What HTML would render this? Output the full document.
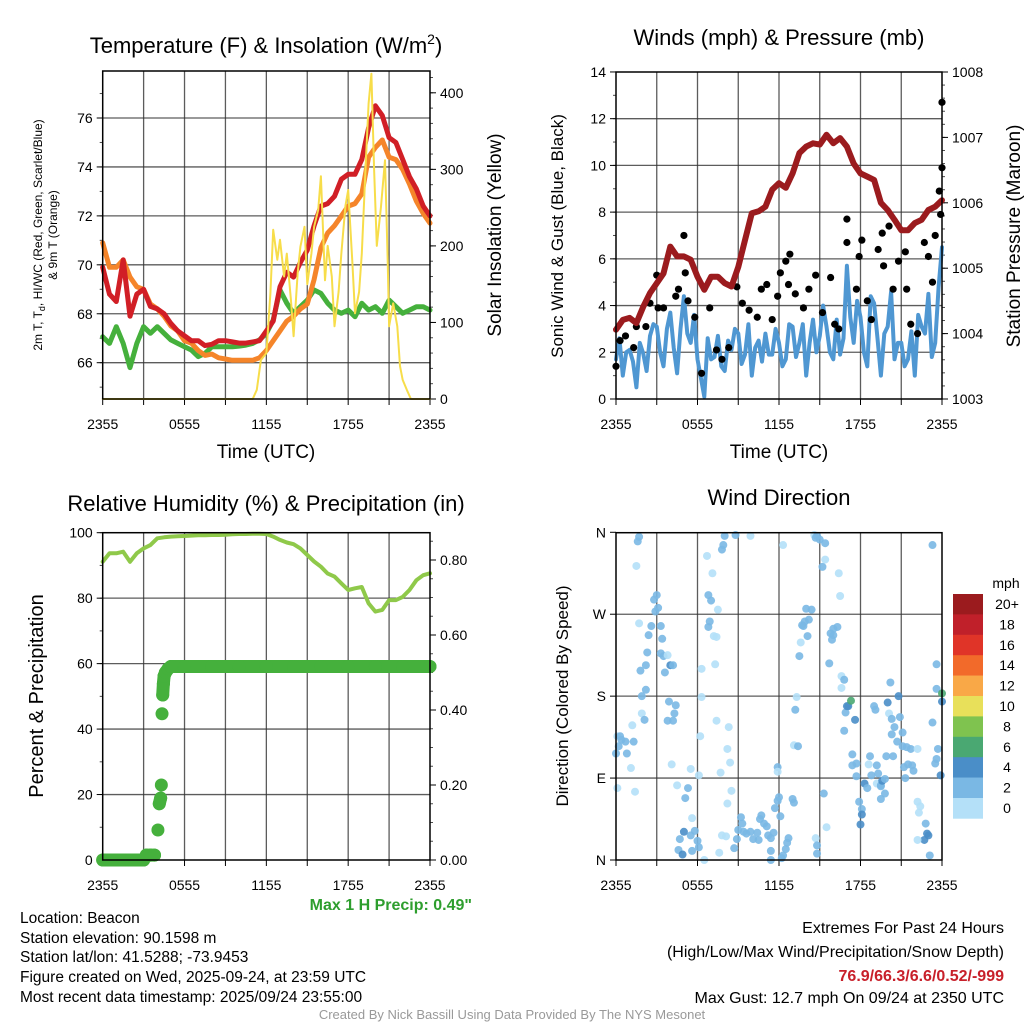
<!DOCTYPE html>
<html><head><meta charset="utf-8">
<style>
html,body{margin:0;padding:0;background:#fff;}
svg{display:block;font-family:"Liberation Sans",sans-serif;}
</style></head>
<body>
<svg id="root" width="1024" height="1024" viewBox="0 0 1024 1024" xmlns="http://www.w3.org/2000/svg">
<rect x="0" y="0" width="1024" height="1024" fill="#fff"/>
<text x="266" y="53" font-size="22" text-anchor="middle">Temperature (F) &amp; Insolation (W/m<tspan font-size="14" dy="-9">2</tspan><tspan dy="9">)</tspan></text>
<text x="779" y="45" font-size="22" text-anchor="middle">Winds (mph) &amp; Pressure (mb)</text>
<text x="266" y="511" font-size="22" text-anchor="middle">Relative Humidity (%) &amp; Precipitation (in)</text>
<text x="779" y="505" font-size="22" text-anchor="middle">Wind Direction</text>
<text x="266" y="458" font-size="19" text-anchor="middle">Time (UTC)</text>
<text x="779" y="458" font-size="19" text-anchor="middle">Time (UTC)</text>
<text transform="translate(42,235) rotate(-90)" font-size="12" text-anchor="middle">2m T, T<tspan font-size="9" dy="3">d</tspan><tspan dy="-3">, HI/WC (Red, Green, Scarlet/Blue)</tspan></text>
<text transform="translate(57,235) rotate(-90)" font-size="12" text-anchor="middle">&amp; 9m T (Orange)</text>
<text transform="translate(501,235) rotate(-90)" font-size="19" text-anchor="middle">Solar Insolation (Yellow)</text>
<text transform="translate(563,236) rotate(-90)" font-size="17" text-anchor="middle">Sonic Wind &amp; Gust (Blue, Black)</text>
<text transform="translate(1020,236) rotate(-90)" font-size="19" text-anchor="middle">Station Pressure (Maroon)</text>
<text transform="translate(43,696) rotate(-90)" font-size="20" text-anchor="middle">Percent &amp; Precipitation</text>
<text transform="translate(568,696) rotate(-90)" font-size="17" text-anchor="middle">Direction (Colored By Speed)</text>
<g id="plots"></g>
<g id="cbar"></g>
<text x="472" y="910" font-size="16" font-weight="bold" fill="#2e9e2e" text-anchor="end">Max 1 H Precip: 0.49"</text>
<g font-size="15.5">
<text x="20" y="923">Location: Beacon</text>
<text x="20" y="943">Station elevation: 90.1598 m</text>
<text x="20" y="962">Station lat/lon: 41.5288; -73.9453</text>
<text x="20" y="982">Figure created on Wed, 2025-09-24, at 23:59 UTC</text>
<text x="20" y="1002">Most recent data timestamp: 2025/09/24 23:55:00</text>
</g>
<g font-size="16" text-anchor="end">
<text x="1004" y="933">Extremes For Past 24 Hours</text>
<text x="1004" y="957">(High/Low/Max Wind/Precipitation/Snow Depth)</text>
<text x="1004" y="981" font-weight="bold" fill="#c8202a">76.9/66.3/6.6/0.52/-999</text>
<text x="1004" y="1003">Max Gust: 12.7 mph On 09/24 at 2350 UTC</text>
</g>
<text x="512" y="1019" font-size="13" fill="#999" text-anchor="middle">Created By Nick Bassill Using Data Provided By The NYS Mesonet</text>
</svg>
<script>
// ---------- DATA ----------
const halfHours = [];
for (let i = 0; i <= 48; i++) halfHours.push(i / 2);
const xTickHours = [0, 6, 12, 18, 24];
const xTickLabels = ["2355", "0555", "1155", "1755", "2355"];

const tempRed = [69.9,68.8,68.5,70.2,67.9,68.8,69.0,68.3,68.2,68.0,67.6,67.3,67.1,66.9,66.9,66.7,66.75,66.9,66.9,66.85,66.8,66.8,66.85,66.9,67.3,67.7,69.1,69.7,69.5,70.1,70.6,71.6,72.4,72.5,72.8,73.5,73.7,73.7,74.3,75.6,76.5,76.1,75.2,75.0,74.3,73.6,73.1,72.4,72.0];
const temp9mOrange = [70.9,69.9,69.9,70.2,69.5,69.1,69.0,68.4,68.2,67.9,67.5,67.3,66.9,66.8,66.5,66.3,66.35,66.2,66.15,66.1,66.1,66.1,66.1,66.2,66.5,66.9,67.3,67.7,67.9,68.2,68.4,69.4,70.7,71.3,71.6,72.0,72.4,72.5,72.9,74.4,74.8,75.1,74.4,74.3,73.9,73.3,72.6,72.1,71.7];
const dewGreen = [67.06,66.79,67.47,66.79,65.8,66.79,67.47,67.2,67.47,67.2,66.93,66.79,66.65,66.52,66.25,66.38,66.65,66.65,66.65,66.65,66.68,66.72,66.79,66.93,67.2,67.74,68.97,68.43,68.02,68.29,68.56,68.97,68.83,68.43,68.15,68.02,68.15,67.88,68.43,68.15,68.29,68.02,68.56,68.29,68.02,68.15,68.29,68.29,68.15];
const tempTicks = [66, 68, 70, 72, 74, 76];
const solarTicks = [0, 100, 200, 300, 400];

const solarT = [0,11,11.3,11.6,12,12.3,12.5,12.8,13,13.3,13.5,13.8,14,14.3,14.5,14.8,15,15.3,15.5,15.8,16,16.3,16.5,16.8,17,17.3,17.5,17.8,18,18.3,18.5,18.8,19,19.3,19.5,19.7,19.9,20.1,20.4,20.7,20.9,21,21.3,21.6,21.8,22,22.3,22.6,24];
const solarV = [0,0,12,51,60,138,221,182,208,160,190,130,82,165,199,225,150,190,225,247,291,155,200,160,95,140,191,252,273,180,112,140,190,312,386,425,300,200,250,312,180,95,125,95,43,25,12,0,0];

const pressure = [1004.06,1004.21,1004.24,1004.16,1004.41,1004.62,1004.77,1004.92,1005.33,1005.18,1005.18,1005.13,1004.87,1004.67,1004.87,1004.87,1004.77,1004.72,1005.02,1005.43,1005.84,1005.87,1005.94,1006.2,1006.3,1006.23,1006.45,1006.76,1006.86,1006.91,1006.89,1007.04,1006.91,1006.99,1006.86,1006.6,1006.45,1006.4,1006.35,1006.0,1005.89,1005.74,1005.58,1005.58,1005.69,1005.74,1005.89,1005.94,1006.04];
const windSpeed = [1.7,2.6,1.0,2.0,2.1,1.6,0.5,2.4,1.95,1.2,2.7,3.2,3.1,2.0,1.4,3.0,3.7,2.2,1.1,3.0,4.4,2.8,2.4,3.6,1.7,0.9,0.1,2.6,1.7,1.8,2.7,1.4,1.2,2.5,2.1,3.0,2.8,1.5,1.9,3.2,1.0,2.2,2.5,1.6,2.8,1.9,1.9,3.0,2.4,1.4,1.7,3.2,3.1,1.8,2.4,3.2,1.0,2.4,3.4,2.0,2.7,4.0,3.1,2.0,1.7,3.4,1.9,2.6,5.7,3.5,2.4,4.2,3.5,2.0,1.4,4.4,4.1,2.6,1.0,2.8,3.1,4.6,1.7,2.4,2.4,1.4,1.7,2.9,1.0,3.6,3.1,2.8,4.5,1.8,2.4,4.8,6.5];
const gustT = [0,0.3,0.7,1.3,1.5,2.2,2.5,3.0,3.1,3.5,4.4,4.6,5.0,5.1,5.3,5.8,6.3,6.9,7.4,7.8,8.3,8.9,9.3,9.8,10.4,10.7,11.1,11.5,11.9,12.1,12.5,12.8,12.7,13.2,13.8,14.2,14.7,15.2,15.8,16.1,16.4,17.0,17.0,17.7,17.9,18.1,18.5,18.8,19.3,19.6,19.7,20.1,20.4,20.8,21.3,21.4,21.7,22.2,22.7,23.0,23.3,23.5,23.8,24.0,24.0,23.9];
const gustV = [1.4,2.5,2.7,2.2,3.1,3.1,4.1,5.3,3.9,3.9,4.4,4.7,7.0,5.4,4.2,3.5,1.1,3.9,2.1,1.7,2.2,4.8,4.1,3.8,3.5,4.7,4.9,3.4,4.4,5.4,5.9,6.2,4.9,4.5,3.9,4.7,5.3,3.7,5.2,3.2,3.0,7.7,6.7,4.7,6.1,6.8,4.2,3.4,6.4,7.1,5.7,7.4,4.7,5.9,6.3,4.7,3.2,2.8,6.7,6.1,5.0,7.0,8.9,9.9,12.7,7.9];
const windTicks = [0,2,4,6,8,10,12,14];
const pressTicks = [1003,1004,1005,1006,1007,1008];

const rh = [91.1,93.7,93.7,94.2,91.1,93.7,95.2,96.2,98.3,98.6,98.8,98.9,99.0,99.1,99.2,99.2,99.3,99.3,99.4,99.5,99.6,99.6,99.7,99.7,99.6,98.8,97.8,97.0,96.5,95.2,93.2,91.2,89.6,87.5,86.6,84.5,82.5,83.0,83.4,78.4,75.9,76.4,79.4,79.4,80.4,82.5,85.5,87.0,87.6];
const precipT = [0,0.5,1,1.5,2,2.5,3,3.2,3.5,3.8,4.05,4.15,4.25,4.3,4.35,4.4,4.45,4.5,4.6,4.8,5,6,8,10,12,14,16,18,20,22,24];
const precipV = [0,0,0,0,0,0,0,0.013,0.013,0.013,0.08,0.15,0.165,0.20,0.39,0.44,0.47,0.49,0.50,0.51,0.516,0.516,0.516,0.516,0.516,0.516,0.516,0.516,0.516,0.516,0.516];
const rhTicks = [0,20,40,60,80,100];
const precipTicks = [0,0.2,0.4,0.6,0.8];
const precipTickLabels = ["0.00","0.20","0.40","0.60","0.80"];

const dirT = [0,0.1,0.3,0.4,0.2,0.7,0.8,1.3,1.2,0.1,1.1,1.4,1.9,2.1,1.9,2.2,1.8,2.2,2.3,2.4,2.6,1.7,1.5,1.6,1.7,2.8,3.0,2.9,3.1,3.3,3.4,3.3,3.5,3.8,4.0,4.2,3.6,3.9,4.4,4.3,3.8,4.2,4.1,4.5,5.1,5.3,5.6,5.5,5.0,4.7,4.6,4.9,5.6,5.8,6.0,6.1,5.5,6.1,6.2,6.3,6.3,6.5,6.7,6.8,7.0,7.1,7.5,6.9,6.8,7.2,7.4,7.3,7.4,7.7,7.8,7.6,8.1,8.2,8.2,8.3,8.4,8.5,7.8,7.9,8.0,8.8,9.9,8.7,8.9,9.0,9.2,9.3,9.4,9.6,9.9,10.1,10.4,10.5,10.6,10.7,10.9,11.1,11.2,11.4,11.6,11.4,11.4,11.9,11.9,11.7,11.9,12.0,12.1,12.2,12.3,12.5,12.6,12.7,13.0,13.1,13.2,13.3,13.1,13.4,12.3,13.5,13.6,13.7,13.9,14.2,13.8,14.1,14.0,14.4,14.6,14.7,14.8,15.0,15.4,15.2,15.4,16.4,16.5,15.3,15.5,14.7,14.8,14.8,15.7,15.8,16.0,15.9,16.3,16.0,16.6,16.8,16.6,16.8,16.9,17.0,17.1,17.3,17.6,17.4,17.4,17.7,17.7,17.9,18.1,18.1,18.0,18.3,18.5,18.7,18.6,18.8,19.0,19.1,19.2,19.2,19.3,19.5,19.5,19.6,19.8,19.5,19.8,19.9,20.1,20.2,20.0,20.3,20.4,20.3,20.5,20.7,20.8,20.9,21.1,21.1,21.2,21.3,21.4,21.7,21.5,21.8,21.9,22.2,22.2,22.4,22.3,22.8,23.0,22.9,22.7,22.2,23.1,23.3,23.3,23.5,23.6,23.7,23.9,23.6,23.6,24.0,24.0];
const dirDeg = [117,136,136,132,125,130,117,130,148,79,101,75,161,154,180,187,208,214,228,247,257,260,323,350,355,286,291,273,277,257,243,227,224,225,214,214,206,174,170,161,153,153,105,82,68,79,46,27,31,23,11,6,10,32,21,14,100,93,136,210,179,0,334,291,285,315,275,262,256,246,245,215,153,96,27,8,26,62,122,146,107,76,341,346,356,357,356,13,23,33,47,40,31,29,31,23,30,22,45,49,40,37,27,24,30,10,0,102,97,57,65,69,48,2,5,12,19,24,67,63,165,179,126,125,346,224,239,258,262,264,257,246,276,275,357,354,356,352,348,322,330,315,290,73,36,24,16,7,216,249,247,242,256,254,202,198,189,142,162,169,169,175,154,116,104,106,92,64,56,50,39,84,79,114,105,93,169,165,104,84,95,82,81,87,73,67,89,114,161,195,173,155,114,138,146,130,180,157,125,140,102,90,124,122,105,104,98,122,64,59,52,40,27,29,22,22,5,346,151,106,111,122,93,215,188,183,174];
const dirSpeed = [3,1,3,3,3,3,3,3,1,1,1,1,1,3,3,3,3,3,3,3,3,1,1,3,3,3,3,3,3,3,3,3,3,1,5,3,3,3,3,3,3,3,1,1,3,3,1,3,5,3,3,5,3,3,3,3,1,1,1,1,1,1,1,3,3,1,1,3,3,1,1,1,1,1,1,1,1,1,1,1,1,1,3,3,3,3,1,3,3,3,3,3,3,3,3,3,3,3,3,3,3,3,3,3,3,3,3,3,1,3,3,3,3,3,3,3,3,3,3,3,3,1,1,3,1,3,1,3,3,3,3,3,3,3,1,3,3,3,3,3,1,1,1,3,1,1,3,3,3,3,3,3,3,3,1,3,1,3,3,5,5,7,5,3,3,3,3,3,3,5,5,5,3,3,1,3,3,3,3,1,3,3,3,5,3,3,3,3,1,3,5,3,3,3,3,3,5,3,3,3,3,3,3,3,3,3,3,1,1,1,1,3,5,5,5,1,3,3,3,3,3,3,5,3,3,7,5];
const dirTicks = [0,90,180,270,360];
const dirTickLabels = ["N","E","S","W","N"];

const cbarLabels = ["20+","18","16","14","12","10","8","6","4","2","0"];
const cbarColors = ["#9b1b1e","#c0202a","#e03428","#f26a2a","#f9a847","#e8e05a","#7fc34f","#4aa872","#4a8ec8","#7ab8e4","#b4e0f8"];

// ---------- HELPERS ----------
const NS = "http://www.w3.org/2000/svg";
function el(tag, attrs, parent) {
  const e = document.createElementNS(NS, tag);
  for (const k in attrs) e.setAttribute(k, attrs[k]);
  parent.appendChild(e);
  return e;
}
function speedColor(s) {
  let idx = 10 - Math.min(10, Math.floor(s / 2));
  return cbarColors[idx];
}
const plots = document.getElementById("plots");

function makePanel(name, x0, x1, y0, y1) {
  const g = el("g", {}, plots);
  
  
  const xs = t => x0 + (t / 24) * (x1 - x0);
  for (let h = 3; h < 24; h += 3) {
    const ln = el("line", {x1: xs(h), x2: xs(h), y1: y0, y2: y1, stroke: "#333", "stroke-width": 1.3, "stroke-opacity": 0.8}, g);
    
    
  }
  for (let h = 0; h <= 24; h += 3) {
    const tk = el("line", {x1: xs(h), x2: xs(h), y1: y1, y2: y1 + 6, stroke: "#000", "stroke-width": 1}, g);
    
    
  }
  xTickHours.forEach((h, i) => {
    const t = el("text", {x: xs(h), y: y1 + 30, "font-size": 14, "text-anchor": "middle"}, g);
    t.textContent = xTickLabels[i];
    
    
  });
  return {g, xs, x0, x1, y0, y1};
}
function hGrid(p, vals, ys) {
  vals.forEach(v => {
    const y = ys(v);
    if (y <= p.y0 + 1 || y >= p.y1 - 1) return;
    const ln = el("line", {x1: p.x0, x2: p.x1, y1: y, y2: y, stroke: "#333", "stroke-width": 1.3, "stroke-opacity": 0.8}, p.g);
    
    
  });
}
function yAxis(p, vals, labels, ys, side, nameBase) {
  vals.forEach((v, i) => {
    const y = ys(v);
    const x = side === "left" ? p.x0 : p.x1;
    const tk = el("line", {x1: x, x2: side === "left" ? x - 6 : x + 6, y1: y, y2: y, stroke: "#000"}, p.g);
    
    
    const t = el("text", {x: side === "left" ? x - 10 : x + 10, y: y + 5, "font-size": 14, "text-anchor": side === "left" ? "end" : "start"}, p.g);
    t.textContent = labels[i];
    
    
  });
}
function minorTicks(p, ys, vmin, vmax, step, side) {
  for (let v = vmin; v <= vmax + 1e-9; v += step) {
    const y = ys(v);
    if (y < p.y0 || y > p.y1) continue;
    const x = side === "left" ? p.x0 : p.x1;
    const tk = el("line", {x1: x, x2: side === "left" ? x - 3 : x + 3, y1: y, y2: y, stroke: "#000", "stroke-opacity": 0.7}, p.g);
    
    
  }
}
function frame(p) {
  const r = el("rect", {x: p.x0, y: p.y0, width: p.x1 - p.x0, height: p.y1 - p.y0, fill: "none", stroke: "#000", "stroke-width": 1.5}, p.g);
  
  
}
function line(p, ts, vs, ys, color, w, name) {
  const d = ts.map((t, i) => (i ? "L" : "M") + p.xs(t).toFixed(1) + " " + ys(vs[i]).toFixed(1)).join("");
  const path = el("path", {d, fill: "none", stroke: color, "stroke-width": w, "stroke-linejoin": "round", "stroke-linecap": "round"}, p.g);
  
  
  return path;
}

// ---------- PANEL 1 ----------
const p1 = makePanel("temperature-panel", 102.7, 430, 71, 399);
const yT = v => 118 + (76 - v) * 24.47;
const yS = v => 399 - v * 0.7655;
hGrid(p1, tempTicks, yT);
minorTicks(p1, yT, 65, 77, 1, "left");
minorTicks(p1, yS, 0, 420, 20, "right");
yAxis(p1, tempTicks, tempTicks.map(String), yT, "left", "temperature-y");
yAxis(p1, solarTicks, solarTicks.map(String), yS, "right", "solar-y");
line(p1, halfHours, dewGreen, yT, "#45b03c", 5, "dewpoint-line");
line(p1, halfHours, temp9mOrange, yT, "#f5852a", 5, "temp-9m-line");
line(p1, halfHours, tempRed, yT, "#d11f26", 5, "temp-2m-line");
line(p1, solarT, solarV, yS, "#f7dd4a", 2, "solar-line");
frame(p1);

// ---------- PANEL 2 ----------
const p2 = makePanel("wind-panel", 616, 942, 72, 399);
const yW = v => 399 - v * 23.36;
const yP = v => 399 - (v - 1003) * 65.4;
hGrid(p2, windTicks, yW);
minorTicks(p2, yW, 0, 14, 1, "left");
minorTicks(p2, yP, 1003, 1008, 0.2, "right");
yAxis(p2, windTicks, windTicks.map(String), yW, "left", "wind-y");
yAxis(p2, pressTicks, pressTicks.map(String), yP, "right", "pressure-y");
const windTimes = windSpeed.map((v, i) => i * 24 / (windSpeed.length - 1));
line(p2, windTimes, windSpeed, yW, "#4f97d2", 4, "wind-speed-line");
gustT.forEach((t, i) => {
  const c = el("circle", {cx: p2.xs(t), cy: yW(gustV[i]), r: 3.6, fill: "#000"}, p2.g);
  
  
});
line(p2, halfHours, pressure, yP, "#9b1b1e", 6, "pressure-line");
frame(p2);

// ---------- PANEL 3 ----------
const p3 = makePanel("humidity-panel", 102.7, 430, 532.7, 860);
const yR = v => 860 - v * 3.273;
const yPr = v => 860 - v * 375;
hGrid(p3, rhTicks, yR);
minorTicks(p3, yR, 0, 100, 10, "left");
minorTicks(p3, yPr, 0, 0.86, 0.05, "right");
yAxis(p3, rhTicks, rhTicks.map(String), yR, "left", "humidity-y");
yAxis(p3, precipTicks, precipTickLabels, yPr, "right", "precip-y");
line(p3, halfHours, rh, yR, "#8fc94a", 4, "humidity-line");
for (let i = 1; i < precipT.length; i++) {
  if (Math.abs(precipV[i] - precipV[i - 1]) < 0.03) {
    const s = el("line", {x1: p3.xs(precipT[i - 1]), y1: yPr(precipV[i - 1]), x2: p3.xs(precipT[i]), y2: yPr(precipV[i]), stroke: "#45b03c", "stroke-width": 13, "stroke-linecap": "round"}, p3.g);
    
    
  }
}
precipT.forEach((t, i) => {
  const c = el("circle", {cx: p3.xs(t), cy: yPr(precipV[i]), r: 6.5, fill: "#45b03c"}, p3.g);
  
  
});
frame(p3);

// ---------- PANEL 4 ----------
const p4 = makePanel("wind-direction-panel", 616, 942, 532.7, 860);
const yD = v => 860 - v * 0.9103;
hGrid(p4, dirTicks, yD);
yAxis(p4, dirTicks, dirTickLabels, yD, "left", "direction-y");
dirT.forEach((t, i) => {
  const c = el("circle", {cx: p4.xs(t), cy: yD(dirDeg[i]), r: 4, fill: speedColor(dirSpeed[i]), "fill-opacity": 0.9}, p4.g);
  
  
});
frame(p4);

// ---------- Colorbar ----------
const cb = document.getElementById("cbar");
const cbTop = 594, cbH = 20.4;
const unit = el("text", {x: 1006, y: 588, "font-size": 14, "text-anchor": "middle"}, cb);
unit.textContent = "mph";


cbarColors.forEach((c, i) => {
  const r = el("rect", {x: 953, y: cbTop + i * cbH, width: 30, height: cbH + 0.3, fill: c}, cb);
  
  
  const t = el("text", {x: 1007, y: cbTop + i * cbH + 15, "font-size": 14, "text-anchor": "middle"}, cb);
  t.textContent = cbarLabels[i];
  
  
});
</script>
</body></html>
